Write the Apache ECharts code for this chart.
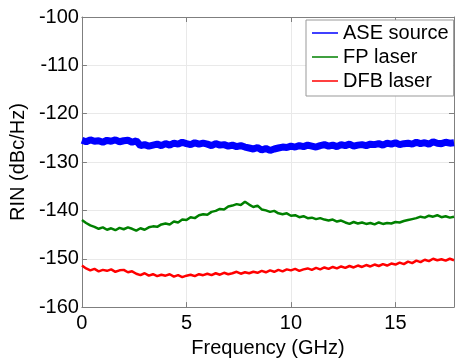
<!DOCTYPE html>
<html>
<head>
<meta charset="utf-8">
<script src="https://cdn.jsdelivr.net/npm/echarts@6/dist/echarts.min.js"></script>
<style>
html,body{margin:0;padding:0;background:#fff;}
#c{width:455px;height:363px;}
</style>
</head>
<body>
<div id="c"></div>
<script>
// Frequency sampling step (GHz) and series values (dBc/Hz)
const STEP = 0.2;
const xTicks = [0, 5, 10, 15];
const yTicks = [-160, -150, -140, -130, -120, -110, -100];
const seriesNames = ['ASE source', 'FP laser', 'DFB laser'];

const ASE = [
-125.5,-125.8,-125.4,-125.7,-125.6,-125.9,-125.5,-125.7,-125.4,-125.8,-125.6,-125.5,-125.9,-125.6,
-126.6,-126.4,-126.7,-126.5,-126.3,-126.6,
-126.2,-126.5,-126.1,-126.3,-125.9,-126.2,-126.4,-126.0,-126.3,-126.1,
-126.3,-126.6,-126.2,-126.5,-126.4,-126.7,-126.5,-126.8,-126.6,-126.9,
-127.1,-127.3,-127.0,-127.5,-127.2,-127.6,-127.3,-127.1,
-126.9,-127.0,-126.7,-126.9,-126.6,-126.8,-126.5,-126.7,-126.9,-126.6,-126.4,-126.7,
-126.5,-126.8,-126.4,-126.6,-126.3,-126.7,-126.5,-126.4,-126.6,-126.3,
-126.4,-126.2,-126.5,-126.1,-126.3,-126.0,-126.4,-126.2,-126.1,-126.3,
-125.9,-126.2,-126.0,-126.3,-125.8,-126.1,-126.2,-125.9,-126.1,-126.0
];

const FP = [
-142.0,-142.6,-143.1,-143.4,-143.8,-143.5,-144.0,-143.7,-144.1,-143.6,
-143.9,-143.5,-143.8,-144.2,-143.7,-144.0,-143.5,-143.3,-143.4,-142.9,
-142.7,-142.9,-142.3,-142.5,-141.9,-142.0,-141.4,-141.6,-141.0,-140.8,
-140.9,-140.3,-140.1,-139.7,-139.8,-139.2,-139.0,-138.7,-138.9,-138.2,
-138.8,-139.3,-139.0,-139.8,-140.0,-140.3,-140.1,-140.6,-140.8,-140.6,
-141.1,-141.0,-141.4,-141.2,-141.6,-141.5,-141.8,-141.6,-141.9,-142.1,
-141.9,-142.3,-142.1,-142.5,-142.8,-142.4,-142.7,-142.5,-142.8,-142.6,
-142.9,-142.5,-142.8,-142.6,-142.7,-142.4,-142.5,-142.2,-142.0,-141.8,
-141.6,-141.3,-141.5,-141.1,-141.3,-141.0,-141.4,-141.2,-141.5,-141.3
];

const DFB = [
-151.4,-152.0,-152.4,-152.1,-152.6,-152.3,-152.5,-152.2,-152.7,-152.4,
-152.3,-152.8,-152.6,-153.1,-153.4,-153.0,-153.5,-153.2,-153.6,-153.3,
-153.5,-153.2,-153.7,-153.4,-153.8,-153.5,-153.3,-153.6,-153.2,-153.4,
-153.1,-153.4,-153.0,-153.3,-152.9,-153.2,-153.0,-152.7,-153.1,-152.8,
-153.0,-152.7,-152.9,-152.5,-152.8,-152.4,-152.7,-152.3,-152.6,-152.2,
-152.4,-152.1,-152.5,-152.2,-152.0,-152.3,-151.9,-152.2,-151.8,-152.1,
-151.7,-152.0,-151.6,-151.9,-151.5,-151.8,-151.4,-151.7,-151.3,-151.6,
-151.2,-151.5,-151.1,-151.4,-151.0,-151.2,-150.8,-151.1,-150.6,-150.9,
-150.4,-150.7,-150.2,-150.5,-150.0,-150.3,-150.1,-150.4,-150.0,-150.3
];

const X_MAX = 17.8;
const colors = ['#0000ff', '#008000', '#ff0000'];
const FONT = 'Liberation Sans, Arial, Helvetica, sans-serif';

function pairs(arr){ return arr.map((v,i)=>[+(i*STEP).toFixed(1), v]); }

const chart = echarts.init(document.getElementById('c'), null, {renderer:'canvas'});
const axisGray = '#7f7f7f';
const option = {
  backgroundColor: '#ffffff',
  animation: false,
  textStyle: {fontFamily: FONT},
  grid: {left: 77, right: 1, top: 17, bottom: 46},
  legend: {
    orient: 'vertical',
    left: 306, top: 20,
    data: seriesNames.map(n => ({name: n, icon: 'rect'})),
    backgroundColor: '#ffffff',
    borderColor: '#999999',
    borderWidth: 1,
    borderRadius: 0,
    padding: [3, 5, 5, 6],
    itemGap: 4,
    itemWidth: 26,
    itemHeight: 1.5,
    itemTextGap: 2,
    textStyle: {fontSize: 20, color: '#000', fontFamily: FONT}
  },
  xAxis: [{
    type: 'value', min: 0, max: X_MAX, interval: 5,
    name: 'Frequency (GHz)', nameLocation: 'middle', nameGap: 25,
    nameTextStyle: {fontSize: 20, color: '#000', fontFamily: FONT},
    axisLine: {show: true, onZero: false, lineStyle: {color: axisGray, width: 1}},
    axisTick: {show: true, inside: true, length: 5, lineStyle: {color: axisGray}},
    axisLabel: {fontSize: 20, color: '#000', margin: 6, showMaxLabel: false,
      formatter: v => (xTicks.indexOf(v) >= 0 ? String(v) : '')},
    splitLine: {show: true, lineStyle: {color: '#e9e9e9', width: 1}}
  }, {
    type: 'value', position: 'top', min: 0, max: X_MAX, interval: 5,
    axisLine: {show: true, onZero: false, lineStyle: {color: axisGray, width: 1}},
    axisTick: {show: true, inside: true, length: 5, lineStyle: {color: axisGray}},
    axisLabel: {show: false}, splitLine: {show: false}
  }],
  yAxis: [{
    type: 'value', min: -160, max: -100, interval: 10,
    name: 'RIN (dBc/Hz)', nameLocation: 'middle', nameGap: 50,
    nameTextStyle: {fontSize: 20, color: '#000', fontFamily: FONT},
    axisLine: {show: true, onZero: false, lineStyle: {color: axisGray, width: 1}},
    axisTick: {show: true, inside: true, length: 5, lineStyle: {color: axisGray}},
    axisLabel: {fontSize: 20, color: '#000', margin: 3,
      formatter: v => (yTicks.indexOf(v) >= 0 ? String(v) : '')},
    splitLine: {show: true, lineStyle: {color: '#e9e9e9', width: 1}}
  }, {
    type: 'value', position: 'right', min: -160, max: -100, interval: 10,
    axisLine: {show: true, onZero: false, lineStyle: {color: axisGray, width: 1}},
    axisTick: {show: true, inside: true, length: 5, lineStyle: {color: axisGray}},
    axisLabel: {show: false}, splitLine: {show: false}
  }],
  series: [
    {name: seriesNames[0], type: 'line', data: pairs(ASE), symbol: 'none',
     itemStyle: {color: colors[0]}, lineStyle: {color: colors[0], width: 7}},
    {name: seriesNames[1], type: 'line', data: pairs(FP), symbol: 'none',
     itemStyle: {color: colors[1]}, lineStyle: {color: colors[1], width: 2.5}},
    {name: seriesNames[2], type: 'line', data: pairs(DFB), symbol: 'none',
     itemStyle: {color: colors[2]}, lineStyle: {color: colors[2], width: 2.5}}
  ]
};
chart.setOption(option);
</script>
</body>
</html>
